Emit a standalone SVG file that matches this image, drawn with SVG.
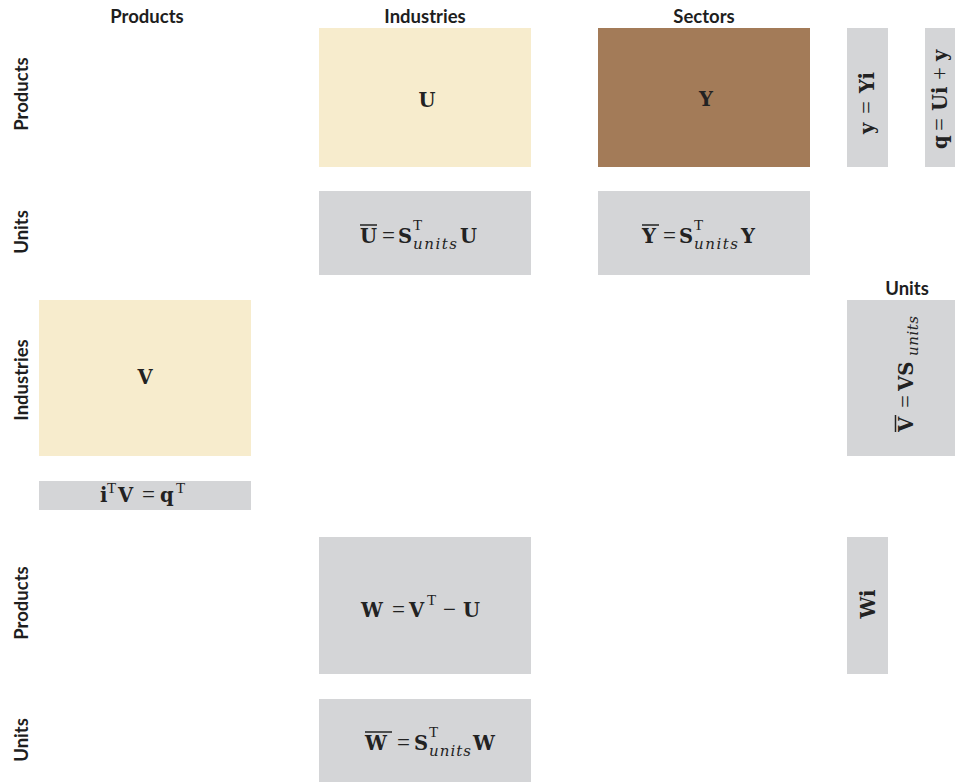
<svg xmlns="http://www.w3.org/2000/svg" width="955" height="782" viewBox="0 0 955 782">
<style>
.lbl{font-family:Lato,"Open Sans",sans-serif;font-weight:700;font-size:18.5px;fill:#1e1e1e;text-anchor:middle}
.m{font-family:"DejaVu Serif","Liberation Serif",serif;font-size:19.5px;fill:#222}
.b{font-weight:700}
.eq{font-family:"Liberation Serif",serif;font-size:23px;font-weight:400}
.sup{font-family:"Liberation Serif",serif;font-size:15px;font-weight:400}
.it{font-family:"DejaVu Serif",serif;font-size:15px;font-style:italic;font-weight:400}
.beige{fill:#F7ECCD}
.brown{fill:#A37B58}
.gray{fill:#D4D5D7}
.bar{stroke:#222;stroke-width:1.5}
</style>
<rect width="955" height="782" fill="#fff"/>
<g id="headers">
<text class="lbl" x="147" y="23">Products</text>
<text class="lbl" x="425" y="23">Industries</text>
<text class="lbl" x="704" y="23">Sectors</text>
<text class="lbl" x="907" y="295">Units</text>
<text class="lbl" transform="translate(28,94) rotate(-90)">Products</text>
<text class="lbl" transform="translate(28,232) rotate(-90)">Units</text>
<text class="lbl" transform="translate(28,380) rotate(-90)">Industries</text>
<text class="lbl" transform="translate(28,603) rotate(-90)">Products</text>
<text class="lbl" transform="translate(28,740) rotate(-90)">Units</text>
</g>
<g id="node-U">
<rect class="beige" x="319" y="28" width="212" height="139"/>
<text class="m b" x="427" y="107" text-anchor="middle">U</text>
</g>
<g id="node-Y">
<rect class="brown" x="598" y="28" width="212" height="139"/>
<text class="m b" x="706" y="106" text-anchor="middle">Y</text>
</g>
<g id="node-y">
<rect class="gray" x="847" y="28" width="41" height="139"/>
<text class="m" transform="translate(874,134) rotate(-90)"><tspan class="b" x="0">y</tspan><tspan class="eq" x="20">=</tspan><tspan class="b" x="41">Yi</tspan></text>
</g>
<g id="node-q">
<rect class="gray" x="925" y="28" width="30" height="139"/>
<text class="m" transform="translate(947,149) rotate(-90)"><tspan class="b" x="0">q</tspan><tspan class="eq" x="18">=</tspan><tspan class="b" x="38">Ui</tspan><tspan class="eq" x="69">+</tspan><tspan class="b" x="88">y</tspan></text>
</g>
<g id="node-Ubar">
<rect class="gray" x="319" y="191" width="212" height="84"/>
<line class="bar" x1="360" y1="225" x2="377" y2="225"/>
<text class="m"><tspan class="b" x="360" y="243">U</tspan><tspan class="eq" x="382" y="243">=</tspan><tspan class="b" x="398" y="243">S</tspan><tspan class="sup" x="413" y="230">T</tspan><tspan class="it" x="413" y="249" textLength="44" lengthAdjust="spacing">units</tspan><tspan class="b" x="460" y="243">U</tspan></text>
</g>
<g id="node-Ybar">
<rect class="gray" x="598" y="191" width="212" height="84"/>
<line class="bar" x1="642" y1="225" x2="659" y2="225"/>
<text class="m"><tspan class="b" x="642" y="243">Y</tspan><tspan class="eq" x="663" y="243">=</tspan><tspan class="b" x="679" y="243">S</tspan><tspan class="sup" x="694" y="230">T</tspan><tspan class="it" x="694" y="249" textLength="44" lengthAdjust="spacing">units</tspan><tspan class="b" x="741" y="243">Y</tspan></text>
</g>
<g id="node-V">
<rect class="beige" x="39" y="300" width="212" height="156"/>
<text class="m b" x="145" y="384" text-anchor="middle">V</text>
</g>
<g id="node-Vbar">
<rect class="gray" x="847" y="300" width="108" height="156"/>
<g transform="translate(913,432) rotate(-90)">
<line class="bar" x1="0" y1="-17.5" x2="17" y2="-17.5"/>
<text class="m"><tspan class="b" x="0" y="0">V</tspan><tspan class="eq" x="24" y="0">=</tspan><tspan class="b" x="41" y="0">VS</tspan><tspan class="it" x="76" y="5" textLength="40" lengthAdjust="spacing">units</tspan></text>
</g>
</g>
<g id="node-iTV">
<rect class="gray" x="39" y="481" width="212" height="29"/>
<text class="m"><tspan class="b" x="100" y="502">i</tspan><tspan class="sup" x="107" y="493">T</tspan><tspan class="b" x="118" y="502">V</tspan><tspan class="eq" x="142" y="502">=</tspan><tspan class="b" x="160" y="502">q</tspan><tspan class="sup" x="176" y="493">T</tspan></text>
</g>
<g id="node-W">
<rect class="gray" x="319" y="537" width="212" height="137"/>
<text class="m"><tspan class="b" x="361" y="617">W</tspan><tspan class="eq" x="392" y="617">=</tspan><tspan class="b" x="409" y="617">V</tspan><tspan class="sup" x="427" y="605">T</tspan><tspan class="eq" x="443" y="617">−</tspan><tspan class="b" x="463" y="617">U</tspan></text>
</g>
<g id="node-Wi">
<rect class="gray" x="847" y="537" width="41" height="137"/>
<text class="m b" transform="translate(875,604) rotate(-90)" text-anchor="middle">Wi</text>
</g>
<g id="node-Wbar">
<rect class="gray" x="319" y="699" width="212" height="83"/>
<line class="bar" x1="365" y1="732" x2="392" y2="732"/>
<text class="m"><tspan class="b" x="365" y="750">W</tspan><tspan class="eq" x="397" y="750">=</tspan><tspan class="b" x="414" y="750">S</tspan><tspan class="sup" x="429" y="737">T</tspan><tspan class="it" x="429" y="756" textLength="42" lengthAdjust="spacing">units</tspan><tspan class="b" x="473" y="750">W</tspan></text>
</g>
<g id="connectors"/>
</svg>
